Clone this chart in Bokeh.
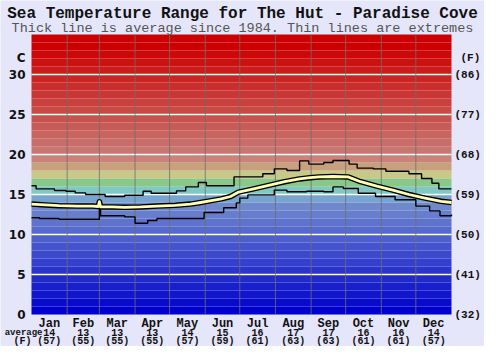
from bokeh.plotting import figure
from bokeh.models import Range1d
from bokeh.core.properties import value
from bokeh.embed import file_html
from bokeh.resources import INLINE

# ---------------- data ----------------
months = ["Jan", "Feb", "Mar", "Apr", "May", "Jun", "Jul", "Aug", "Sep", "Oct", "Nov", "Dec"]
days_in_month = [31, 28, 31, 30, 31, 30, 31, 31, 30, 31, 30, 31]
avg_c = [14, 13, 13, 13, 14, 15, 16, 17, 17, 16, 16, 14]
avg_f = [57, 55, 55, 55, 57, 59, 61, 63, 63, 61, 61, 57]
c_ticks = [0, 5, 10, 15, 20, 25, 30]
f_ticks = ["(32)", "(41)", "(50)", "(59)", "(68)", "(77)", "(86)"]

# extremes and average (day of year, deg C)
max_day = [0, 4, 20, 30, 38, 47, 64, 81, 97, 104, 126, 134, 145, 152, 176, 201, 211, 222,
           233, 241, 254, 262, 276, 283, 297, 308, 328, 339, 348, 354, 365]
max_temp = [16.1, 15.7, 15.5, 15.4, 15.2, 15.0, 14.75, 14.9, 15.4, 15.15, 15.45, 15.95, 16.5, 16.1,
            17.2, 17.6, 18.2, 18.0, 19.2, 18.8, 19.0, 19.25, 18.8, 18.3, 18.2, 17.9, 17.6, 17.0,
            16.4, 15.7, 15.7]

avg_day = [0, 12, 24, 40, 53, 58, 59, 60, 70, 81, 95, 109, 125, 138, 147, 155, 165, 173, 180,
           193, 208, 220, 233, 242, 250, 262, 275, 286, 300, 314, 328, 342, 356, 365]
avg_temp = [13.8, 13.7, 13.6, 13.55, 13.55, 13.5, 14.1, 13.45, 13.45, 13.4, 13.45, 13.55, 13.65,
            13.8, 14.0, 14.2, 14.45, 14.75, 15.3, 15.7, 16.2, 16.6, 16.95, 17.1, 17.2, 17.25, 17.2,
            16.6, 16.05, 15.55, 15.0, 14.55, 14.15, 14.0]

min_day = [0, 7, 24, 58, 59, 60, 81, 90, 101, 109, 138, 150, 167, 178, 181, 188, 211, 222, 239,
           254, 262, 271, 284, 299, 316, 334, 346, 355, 365]
min_temp = [12.1, 12.0, 11.9, 11.9, 13.4, 12.35, 12.2, 11.4, 11.75, 12.0, 12.0, 12.75, 13.35,
            13.95, 14.55, 14.95, 15.55, 15.35, 15.4, 15.35, 15.95, 15.75, 15.15, 14.75, 14.35,
            13.55, 12.95, 12.35, 12.5]

# ---------------- layout ----------------
W, H = 484, 346
L, R, T, B = 31, 451, 34, 314
TMAX = 35
NDAYS = 365
BG = "#e6e6fa"
INK = "#111111"


def xd(px):
    return (px - L) * NDAYS / (R - L)


def yd(py):
    return (B - py) * TMAX / (B - T)


def mix(c1, c2, f):
    return "#%02x%02x%02x" % tuple(int(round(a + (b - a) * f)) for a, b in zip(c1, c2))


# background band colours (1 degree bands)
band_colors = []
for i in range(TMAX):
    if i <= 13:
        band_colors.append(mix((0, 0, 204), (112, 136, 204), i / 13))
    elif i == 14:
        band_colors.append("#78a4d0")
    elif i == 15:
        band_colors.append("#80c8c4")
    elif i == 16:
        band_colors.append("#88c888")
    elif i == 17:
        band_colors.append("#c8c888")
    elif i == 18:
        band_colors.append("#c8a07c")
    elif i == 19:
        band_colors.append("#c88478")
    elif i <= 33:
        band_colors.append(mix((200, 118, 112), (204, 0, 0), (i - 20) / 13))
    else:
        band_colors.append("#cc0000")

p = figure(width=W, height=H, x_range=Range1d(xd(0), xd(W)), y_range=Range1d(yd(H), yd(0)),
           output_backend="svg", toolbar_location=None, min_border=0,
           x_axis_location=None, y_axis_location=None,
           background_fill_color=BG, border_fill_color=BG, outline_line_color=None)
p.grid.grid_line_color = None

p.quad(left=0, right=NDAYS, bottom=list(range(TMAX)), top=list(range(1, TMAX + 1)),
       fill_color=band_colors, line_color=None)

# horizontal white lines
hl = c_ticks[1:]
p.segment(x0=0, x1=NDAYS, y0=hl, y1=hl, line_color="white", line_width=1.6)

# month boundaries
bounds = []
acc = 0
for d in days_in_month[:-1]:
    acc += d
    bounds.append(acc)
p.segment(x0=bounds, x1=bounds, y0=0, y1=TMAX, line_color="#6e6e6e", line_width=1, line_alpha=0.8)

# data lines
p.step(max_day, max_temp, mode="after", line_color="black", line_width=1.4)
p.step(min_day, min_temp, mode="after", line_color="black", line_width=1.4)
p.line(avg_day, avg_temp, line_color="black", line_width=5.5, line_join="round")
p.line(avg_day, avg_temp, line_color="#ffffb4", line_width=2.8, line_join="round")

MONO = value("Liberation Mono")

# left axis labels (C)
p.text(x=xd(25), y=c_ticks, text=[str(t) for t in c_ticks], text_align="right",
       text_baseline="middle", text_font=value("DejaVu Sans"), text_font_style="bold",
       text_font_size="12px", text_color=INK)
p.text(x=[xd(25)], y=[yd(57)], text=["C"], text_align="right", text_baseline="middle",
       text_font=value("DejaVu Sans"), text_font_style="bold", text_font_size="12px",
       text_color=INK)

# right axis labels (F)
p.text(x=xd(454), y=c_ticks, text=f_ticks, text_align="left", text_baseline="middle",
       text_font=MONO, text_font_style="bold", text_font_size="11px", text_color=INK)
p.text(x=[xd(460)], y=[yd(57)], text=["(F)"], text_align="left", text_baseline="middle",
       text_font=MONO, text_font_style="bold", text_font_size="11px", text_color=INK)

# month labels
mids = []
acc = 0
for d in days_in_month:
    mids.append(acc + d / 2)
    acc += d
p.text(x=mids, y=yd(323), text=months, text_align="center", text_baseline="alphabetic",
       text_font=MONO, text_font_style="bold", text_font_size="12px", text_color=INK)
p.text(x=mids, y=yd(332), text=[str(v) for v in avg_c], text_align="center",
       text_baseline="alphabetic", text_font=MONO, text_font_style="bold",
       text_font_size="10px", text_color=INK)
p.text(x=mids, y=yd(341), text=["(%d)" % v for v in avg_f], text_align="center",
       text_baseline="alphabetic", text_font=MONO, text_font_style="bold",
       text_font_size="10px", text_color=INK)
p.text(x=[xd(42)], y=[yd(332)], text=["average"], text_align="right",
       text_baseline="alphabetic", text_font=MONO, text_font_style="bold",
       text_font_size="9px", text_color=INK)
p.text(x=[xd(22)], y=[yd(341)], text=["(F)"], text_align="center",
       text_baseline="alphabetic", text_font=MONO, text_font_style="bold",
       text_font_size="10px", text_color=INK)

# title and subtitle
p.text(x=[xd(242)], y=[yd(13)], text=["Sea Temperature Range for The Hut - Paradise Cove"],
       text_align="center", text_baseline="alphabetic", text_font=MONO,
       text_font_style="bold", text_font_size="16px", text_color=INK)
p.text(x=[xd(242)], y=[yd(28)], text=["Thick line is average since 1984. Thin lines are extremes"],
       text_align="center", text_baseline="alphabetic", text_font=MONO,
       text_font_style="normal", text_font_size="13.5px", text_color="#555555")

open("out.html", "w").write(file_html(p, INLINE))
